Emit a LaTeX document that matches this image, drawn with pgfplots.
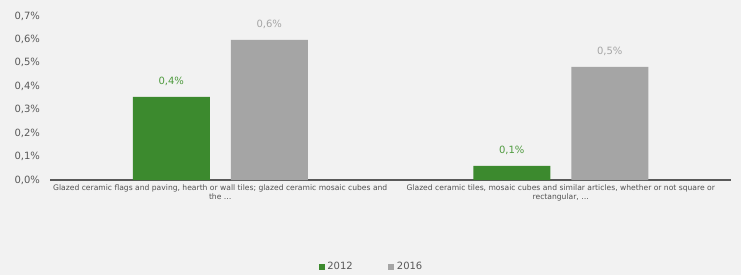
\documentclass[border=0pt]{standalone}
\usepackage{pgfplots}
\pgfplotsset{compat=1.18}
\usepackage{fontspec}
\setmainfont{DejaVu Sans}
\definecolor{bg}{HTML}{F2F2F2}
\definecolor{cgreen}{HTML}{3C8A2E}
\definecolor{cgray}{HTML}{A5A5A5}
\definecolor{lgreen}{HTML}{4E9A3E}
\definecolor{txt}{HTML}{595959}
\begin{document}
\begin{tikzpicture}[x=1pt,y=1pt]
\fill[bg] (-37.5,-71.25) rectangle (518.25,135);
\begin{axis}[
  at={(0,0)}, anchor=south west,
  scale only axis, width=510.75pt, height=123pt,
  xmin=-0.5, xmax=1.5, ymin=0, ymax=0.7,
  axis y line*=left, axis x line*=bottom,
  y axis line style={draw=none},
  x axis line style={draw=txt, line width=1.1pt, -},
  xtick={0,1}, xtick style={draw=none},
  ytick={0,0.1,...,0.7}, ytick style={draw=none},
  xticklabels={{Glazed ceramic flags and paving, hearth or wall tiles; glazed ceramic mosaic cubes and\\the \ldots},{Glazed ceramic tiles, mosaic cubes and similar articles, whether or not square or\\rectangular, \ldots}},
  xticklabel style={font=\fontsize{5.7}{6.6}\selectfont, text=txt!90!black, align=center},
  /pgf/number format/assume math mode=true,
  yticklabel={\pgfmathprintnumber[fixed,fixed zerofill,precision=1,use comma]{\tick}\%},
  yticklabel style={font=\fontsize{7.5}{9}\selectfont, text=txt, xshift=-4pt},
  clip=false,
  legend style={at={(0.4725,-0.53)}, anchor=center, draw=none, fill=none, legend columns=2,
    font=\fontsize{7.5}{9}\selectfont, text=txt, /tikz/every even column/.append style={column sep=24.5pt},
    inner sep=0pt},
  legend image code/.code={\fill[#1] (0pt,-2.2pt) rectangle (4.6pt,2.4pt);},
  nodes near coords={\pgfmathprintnumber[fixed,fixed zerofill,precision=1,use comma]{\pgfplotspointmeta}\%},
  every node near coord/.append style={font=\fontsize{7.5}{9}\selectfont, yshift=5pt},
]
\addplot[ybar, bar width=57.75pt, bar shift=-36.75pt, fill=cgreen, draw=none,
  every node near coord/.append style={text=lgreen, xshift=-36.75pt}] coordinates {(0,0.355) (1,0.06)};
\addlegendentry{2012}
\addplot[ybar, bar width=57.75pt, bar shift=36.75pt, fill=cgray, draw=none,
  every node near coord/.append style={text=cgray, xshift=36.75pt}] coordinates {(0,0.598) (1,0.483)};
\addlegendentry{2016}
\end{axis}
\end{tikzpicture}
\end{document}
